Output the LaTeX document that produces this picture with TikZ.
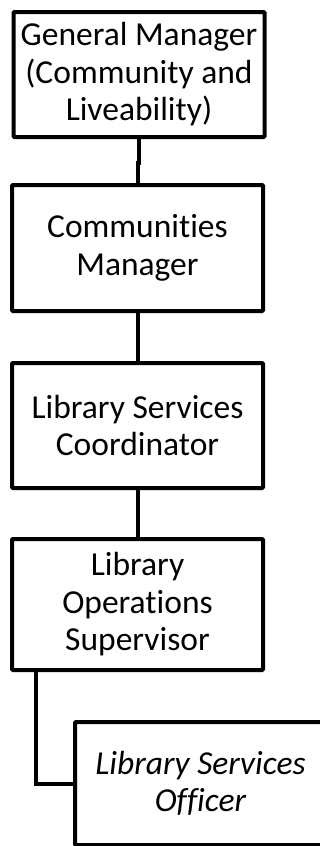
\documentclass[tikz,border=0pt]{standalone}
\usepackage{fontspec}
\setmainfont{Carlito}[Ligatures=NoCommon]
\usepackage{tikz}
\usetikzlibrary{positioning}

\begin{document}
\begin{tikzpicture}[x=1pt, y=-1pt,
  box/.style={draw, line width=4pt, rounded corners=1pt, inner sep=0pt,
    minimum width=251pt, minimum height=126pt, align=center,
    font=\fontsize{33.5}{37.5}\selectfont},
  link/.style={line width=4pt}]
\useasboundingbox (0,0) rectangle (320,846);
\clip (0,0) rectangle (320,846);

% Draw boxes.
\node[box, minimum height=125pt] (gm) at (139, 74.5) {General Manager\\(Community and\\Liveability)};
\node[box] (cm) at (137.5, 248) {Communities\\Manager};
\node[box, minimum height=125pt] (lsc) at (137.5, 425.5) {Library Services\\Coordinator};
\node[box, minimum height=131pt] (los) at (137.5, 604.5) {Library\\Operations\\Supervisor};
\node[box, minimum height=123pt, font=\fontsize{33.5}{37.5}\selectfont\itshape] (lso) at (200.5, 783.5) {Library Services\\Officer};

% Draw lines.
\draw[link] (gm.south) -- ++(0,24) -| (cm.north);
\draw[link] (cm) -- (lsc);
\draw[link] (lsc) -- (los);
\draw[link] ([xshift=26pt]los.south west) |- (lso.west);

\end{tikzpicture}
\end{document}
